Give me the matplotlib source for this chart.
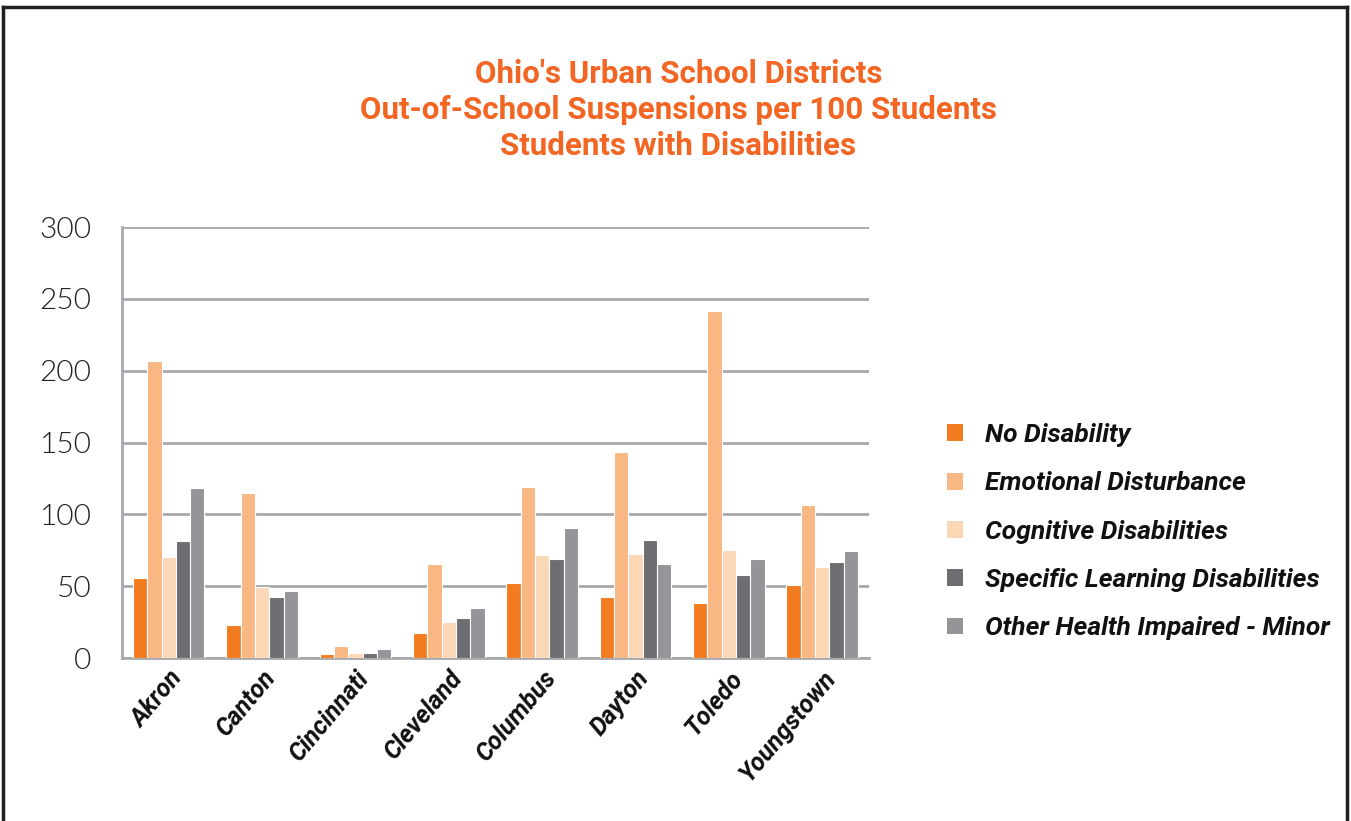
import matplotlib
matplotlib.use("Agg")
import matplotlib.pyplot as plt
import numpy as np
from matplotlib.lines import Line2D
from matplotlib.patches import Patch

cities = ["Akron", "Canton", "Cincinnati", "Cleveland", "Columbus", "Dayton", "Toledo", "Youngstown"]
series_names = ["No Disability", "Emotional Disturbance", "Cognitive Disabilities",
                "Specific Learning Disabilities", "Other Health Impaired - Minor"]
no_disability = [55.5, 22.7, 2.8, 17.6, 52.0, 42.2, 38.3, 50.6]
emotional = [207.0, 114.6, 8.6, 65.2, 118.8, 143.4, 241.5, 106.3]
cognitive = [70.3, 49.4, 3.5, 25.3, 71.7, 72.4, 75.0, 63.3]
specific_learning = [81.4, 42.7, 3.2, 28.0, 68.7, 82.1, 58.0, 66.6]
other_health = [118.1, 46.6, 6.0, 34.8, 90.7, 65.4, 68.7, 74.7]
yticks = [0, 50, 100, 150, 200, 250, 300]
colors = ["#F37B20", "#F9B784", "#FCD7B6", "#6D6E71", "#939598"]

series = [no_disability, emotional, cognitive, specific_learning, other_health]

cond = ["Roboto", "DejaVu Sans"]

fig = plt.figure(figsize=(13.51, 8.21), dpi=100)
ax = fig.add_axes([0.0903, 0.1985, 0.5529, 0.525])

x = np.arange(len(cities))
n = len(series)
group_w = 0.767
bw = group_w / n
for i, (vals, c) in enumerate(zip(series, colors)):
    ax.bar(x - group_w / 2 + bw * (i + 0.5), vals, width=bw, color=c,
           edgecolor="white", linewidth=0.8, label=series_names[i], zorder=3)

ax.set_xlim(-0.5, len(cities) - 0.5)
ax.set_ylim(0, 300)
ax.set_yticks(yticks)
ax.set_yticklabels([str(v) for v in yticks], fontsize=21.5, color="#231F20",
                   family=["Lato", "DejaVu Sans"], fontweight=300)
ax.yaxis.grid(True, color="#A7A9AC", linewidth=2, zorder=0)
ax.set_axisbelow(True)
for s in ["top", "right"]:
    ax.spines[s].set_visible(False)
ax.spines["left"].set_color("#A7A9AC")
ax.spines["left"].set_linewidth(2)
ax.spines["bottom"].set_color("#A7A9AC")
ax.spines["bottom"].set_linewidth(2)
ax.tick_params(axis="y", length=0, pad=22)
ax.tick_params(axis="x", length=0, pad=6)
ax.set_xticks(x)
ax.set_xticklabels(cities, rotation=50, ha="right", rotation_mode="anchor",
                   fontsize=18, fontweight="bold", fontstyle="italic",
                   family=cond, color="#111111")
for lbl in ax.get_xticklabels():
    lbl.set_x(lbl.get_position()[0] + 0.14)

handles = [Patch(facecolor=c, edgecolor="none") for c in colors]
leg = fig.legend(handles, series_names, loc="upper left", bbox_to_anchor=(0.6835, 0.5135),
                 frameon=False, handlelength=0.6, handleheight=0.6, handletextpad=0.85,
                 labelspacing=0.92,
                 prop={"family": cond, "weight": "bold", "style": "italic", "size": 19})
for t in leg.get_texts():
    t.set_color("#111111")

fig.text(0.502, 0.866, "Ohio's Urban School Districts\nOut-of-School Suspensions per 100 Students\nStudents with Disabilities",
         ha="center", va="center", fontsize=22.5, fontweight="bold", color="#F26522",
         family=cond, linespacing=1.27)

# frame
lw = 2.5
fig.add_artist(Line2D([3 / 1351, 3 / 1351], [-0.05, 1 - 7 / 821], transform=fig.transFigure, color="#231F20", lw=lw))
fig.add_artist(Line2D([1347 / 1351, 1347 / 1351], [-0.05, 1 - 7 / 821], transform=fig.transFigure, color="#231F20", lw=lw))
fig.add_artist(Line2D([3 / 1351, 1347 / 1351], [1 - 7 / 821, 1 - 7 / 821], transform=fig.transFigure, color="#231F20", lw=lw))

fig.savefig("out.png", dpi=100, facecolor="white")
